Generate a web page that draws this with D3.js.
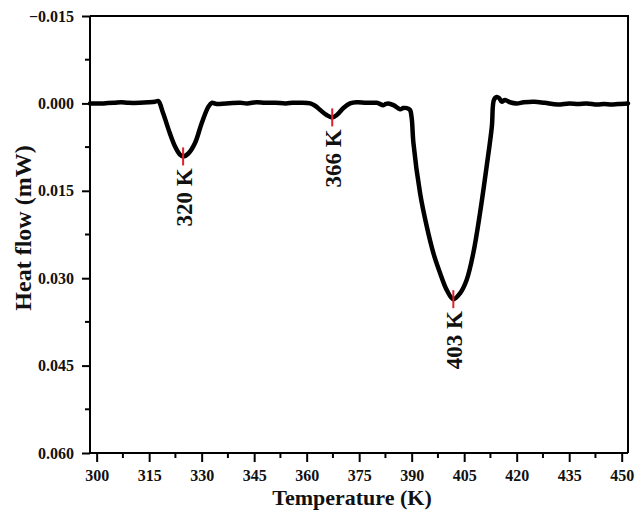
<!DOCTYPE html>
<html>
<head>
<meta charset="utf-8">
<script src="https://cdn.jsdelivr.net/npm/d3@7"></script>
<style>
  html, body { margin: 0; padding: 0; background: #fff; }
  svg { display: block; }
  text { font-family: "Liberation Serif", "Times New Roman", serif; font-weight: bold; fill: #111; }
</style>
</head>
<body>
<svg id="chart" width="635" height="513"></svg>
<script>
// ---- data ----
const temperature = [298.1, 302, 305, 307, 309, 312.4, 315, 316.7, 317.6, 319.0, 320.9, 322.4, 323.8, 324.7, 326.2, 328.1, 330.0, 331.9, 332.9, 334.3, 337, 341, 343, 345.7, 348, 351, 354, 356, 358.1, 361.0, 362.4, 363.8, 365.7, 367.3, 368.6, 370.5, 372.4, 374.3, 377, 380, 381.9, 382.6, 383.3, 384.8, 386.7, 387.6, 388.6, 389.5, 390.0, 390.5, 392.4, 394.3, 396.2, 398.1, 400.0, 401.9, 403.8, 405.7, 407.6, 409.5, 411.4, 412.9, 413.5, 414.3, 415.0, 415.7, 416.7, 418.1, 420, 422, 425, 428, 431.7, 435, 437.5, 440, 443, 445, 447, 449, 451.8];
const heatFlow = [0.0000, 0.0000, -0.0001, -0.0002, -0.0001, -0.0001, -0.0002, -0.0003, -0.0004, 0.0017, 0.0051, 0.0074, 0.0088, 0.0091, 0.0086, 0.0068, 0.0034, 0.0006, -0.0001, 0.0001, 0.0000, -0.0001, 0.0000, -0.0002, -0.0001, -0.0001, 0.0000, -0.0001, -0.0001, 0.0000, 0.0004, 0.0011, 0.0020, 0.0024, 0.0020, 0.0008, 0.0000, -0.0002, -0.0001, -0.0001, 0.0003, 0.0001, 0.0000, 0.0003, 0.0010, 0.0008, 0.0008, 0.0011, 0.0025, 0.0068, 0.0154, 0.0211, 0.0257, 0.0291, 0.0320, 0.0336, 0.0326, 0.0303, 0.0257, 0.0189, 0.0109, 0.0040, -0.0006, -0.0011, -0.0009, -0.0003, -0.0006, -0.0002, 0.0000, -0.0002, -0.0003, -0.0001, 0.0002, 0.0000, 0.0001, 0.0000, 0.0002, 0.0001, 0.0002, 0.0001, 0.0000];

const peakT = [324.7, 367.3, 401.9];
const peakValue = [0.0091, 0.0024, 0.0336];
const peakLabels = ["320 K", "366 K", "403 K"];

const xTicks = [300, 315, 330, 345, 360, 375, 390, 405, 420, 435, 450];
const xMinorTicks = [307.5, 322.5, 337.5, 352.5, 367.5, 382.5, 397.5, 412.5, 427.5, 442.5];
const yTicks = [-0.015, 0.000, 0.015, 0.030, 0.045, 0.060];
const yTickLabels = ["\u22120.015", "0.000", "0.015", "0.030", "0.045", "0.060"];
const yMinorTicks = [-0.0075, 0.0075, 0.0225, 0.0375, 0.0525];

const xLabel = "Temperature (K)";
const yLabel = "Heat flow (mW)";

// ---- layout ----
const svg = d3.select("#chart");
const mLeft = 90, mRight = 628, mTop = 16, mBottom = 453;

const x = d3.scaleLinear().domain([298.1, 451.8]).range([mLeft, mRight]);
const y = d3.scaleLinear().domain([-0.015, 0.060]).range([mTop, mBottom]);

// frame (top and right)
svg.append("path")
  .attr("d", `M${mLeft},${mTop}H${mRight}V${mBottom}`)
  .attr("fill", "none").attr("stroke", "#000").attr("stroke-width", 2);

// x axis
const xAxis = svg.append("g").attr("transform", `translate(0,${mBottom})`)
  .call(d3.axisBottom(x).tickValues(xTicks).tickSize(9).tickPadding(8).tickFormat(d3.format("d")));
xAxis.append("g").selectAll("line").data(xMinorTicks).join("line")
  .attr("x1", d => x(d)).attr("x2", d => x(d)).attr("y1", 0).attr("y2", 5)
  .attr("stroke", "#000").attr("stroke-width", 2);

// y axis
const yAxis = svg.append("g").attr("transform", `translate(${mLeft},0)`)
  .call(d3.axisLeft(y).tickValues(yTicks).tickSize(8).tickPadding(8)
    .tickFormat((d, i) => yTickLabels[i]));
yAxis.append("g").selectAll("line").data(yMinorTicks).join("line")
  .attr("y1", d => y(d)).attr("y2", d => y(d)).attr("x1", 0).attr("x2", -5)
  .attr("stroke", "#000").attr("stroke-width", 2);

[xAxis, yAxis].forEach(g => {
  g.select(".domain").attr("stroke", "#000").attr("stroke-width", 2);
  g.selectAll(".tick line").attr("stroke", "#000").attr("stroke-width", 2);
  g.selectAll(".tick text").attr("font-size", 16).attr("fill", "#111")
    .attr("font-family", "Liberation Serif, Times New Roman, serif").attr("font-weight", "bold");
});
xAxis.select(".domain").attr("d", `M${mLeft},0H${mRight}`);
yAxis.select(".domain").attr("d", `M0,${mTop}V${mBottom}`);

// axis titles
svg.append("text").attr("x", 352).attr("y", 505).attr("text-anchor", "middle")
  .attr("font-size", 22).text(xLabel);
svg.append("text").attr("transform", `translate(31,228) rotate(-90)`)
  .attr("text-anchor", "middle").attr("font-size", 24).text(yLabel);

// curve
const pts = temperature.map((t, i) => [t, heatFlow[i]]);
svg.append("path").datum(pts)
  .attr("fill", "none").attr("stroke", "#000").attr("stroke-width", 4.5)
  .attr("stroke-linejoin", "round").attr("stroke-linecap", "round")
  .attr("d", d3.line().x(d => x(d[0])).y(d => y(d[1])).curve(d3.curveCatmullRom.alpha(0.5)));

// peak markers and labels
peakT.forEach((t, i) => {
  const px = x(t), py = y(peakValue[i]);
  svg.append("line").attr("x1", px).attr("x2", px).attr("y1", py - 9).attr("y2", py + 9)
    .attr("stroke", "#e0202a").attr("stroke-width", 2);
  svg.append("text").attr("transform", `translate(${px + 1},${py + 12}) rotate(-90)`)
    .attr("text-anchor", "end").attr("dy", "0.35em").attr("font-size", 23)
    .text(peakLabels[i]);
});
</script>
</body>
</html>
